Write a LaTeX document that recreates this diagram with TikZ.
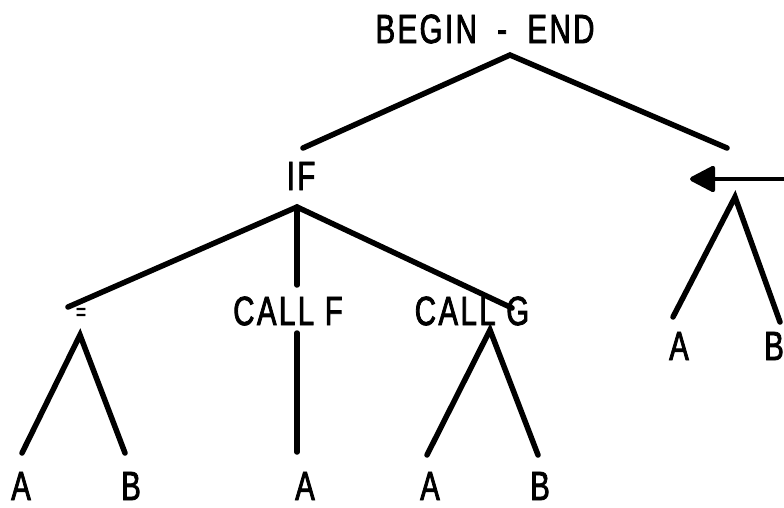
\documentclass[tikz,border=0pt]{standalone}
\usepackage{fontspec}
\setmainfont[FakeStretch=0.72,LetterSpace=6,FakeBold=2]{Liberation Sans}
\usetikzlibrary{arrows.meta}
\begin{document}
\begin{tikzpicture}[x=1bp,y=-1bp,
  lbl/.style={inner sep=0pt,font=\fontsize{41}{41}\selectfont},
  small/.style={inner sep=0pt,font=\fontsize{24}{24}\selectfont},
  edge/.style={line width=5.5bp,line cap=round},
  pointer/.style={line width=4.5bp,-{Triangle[length=28bp,width=28bp,round]}}]
\useasboundingbox (0,0) rectangle (784,508);

% labels
\node[lbl] (be) at (485,29) {BEGIN\enspace-\enspace END};
\node[lbl] (if) at (301,176) {IF};
\node[small] (eq) at (81,314) {=};
\node[lbl] (cf) at (288,311) {CALL F};
\node[lbl] (cg) at (472,311) {CALL G};
\node[lbl] (a1) at (21,486) {A};
\node[lbl] (b1) at (131,486) {B};
\node[lbl] (a2) at (305,486) {A};
\node[lbl] (a3) at (430,486) {A};
\node[lbl] (b3) at (540,486) {B};
\node[lbl] (a4) at (679,346) {A};
\node[lbl] (b4) at (774,346) {B};

% branch points and branch ends
\coordinate (beTop) at (510,55);
\coordinate (beL) at (303,148);
\coordinate (beR) at (727,148);
\coordinate (ifTop) at (297,207);
\coordinate (ifL) at (68,307);
\coordinate (ifM) at (297,285);
\coordinate (ifR) at (512,308);
\coordinate (eqTop) at (80,335);
\coordinate (eqL) at (22,453);
\coordinate (eqR) at (125,453);
\coordinate (cfTop) at (297,333);
\coordinate (cfB) at (297,452);
\coordinate (cgTop) at (490,330);
\coordinate (cgL) at (427,455);
\coordinate (cgR) at (538,455);
\coordinate (rTop) at (735,197);
\coordinate (rL) at (673,317);
\coordinate (rR) at (780,322);
\coordinate (arrS) at (790,179);
\coordinate (arrE) at (690,179);

% tree edges
\draw[edge] (beL) -- (beTop) -- (beR);
\draw[edge] (ifL) -- (ifTop) -- (ifR);
\draw[edge] (ifTop) -- (ifM);
\draw[edge] (eqL) -- (eqTop) -- (eqR);
\draw[edge] (cfTop) -- (cfB);
\draw[edge] (cgL) -- (cgTop) -- (cgR);
\draw[edge] (rL) -- (rTop) -- (rR);

% pointer
\draw[pointer] (arrS) -- (arrE);
\end{tikzpicture}
\end{document}
